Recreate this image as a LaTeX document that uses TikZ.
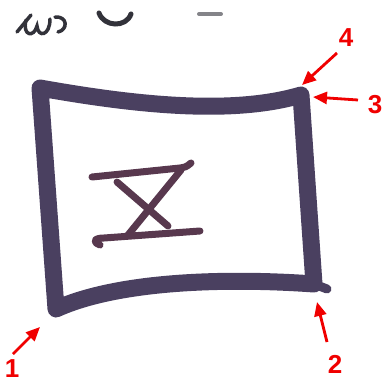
\documentclass[tikz,border=0pt]{standalone}
\usepackage{fontspec}
\setmainfont{Liberation Sans}
\usetikzlibrary{arrows.meta}
\definecolor{ink}{RGB}{74,64,96}
\definecolor{inkbrown}{RGB}{88,56,78}
\definecolor{pencil}{RGB}{50,50,58}
\definecolor{marker}{RGB}{240,0,0}
\tikzset{
  frame/.style={draw=ink, line width=17pt, line join=round, line cap=round},
  glyph/.style={draw=inkbrown, line width=7pt, line cap=round, line join=round},
  scribble/.style={draw=pencil, line width=3.5pt, line cap=round},
  pointer/.style={draw=marker, line width=2.8pt, -{Triangle[length=14pt, width=12pt]}},
  num/.style={text=marker, font=\fontsize{26}{26}\selectfont\bfseries, inner sep=0pt},
}
\begin{document}
\begin{tikzpicture}[x=1pt, y=-1pt]
  \useasboundingbox (0,0) rectangle (384,383);

  \coordinate (tl) at (40,88);
  \coordinate (tr) at (301,95);
  \coordinate (br) at (314,284);
  \coordinate (bl) at (56,309);

  \draw[frame] (tl) .. controls (130,104) and (230,116) .. (tr) -- (br)
    .. controls (230,278) and (120,280) .. (bl) -- cycle;
  \draw[frame, line width=9pt] (br) -- ++(13,5);

  \draw[glyph] (92,177) -- (180,168) .. controls (186,167) .. (191,163);
  \draw[glyph] (100,245) .. controls (92,242) and (94,238) .. (104,238) -- (200,231);
  \draw[glyph] (117,182) -- (168,226);
  \draw[glyph] (181,170) -- (128,235);

  \draw[scribble] (17,32) -- (31,15);
  \draw[scribble] (26,20) .. controls (22,36) and (34,38) .. (37,26)
    .. controls (38,38) and (50,36) .. (50,19);
  \draw[scribble] (55,17) .. controls (68,16) and (68,30) .. (58,32);
  \draw[scribble, line width=5pt] (99,13) .. controls (104,27) and (126,28) .. (131,14);
  \draw[scribble, line width=4pt, draw=pencil!60] (199,14) -- (221,14);

  \node[num] (n1) at (12,369) {1};
  \node[num] (n2) at (335,364) {2};
  \node[num] (n3) at (375,105) {3};
  \node[num] (n4) at (346,38) {4};

  \coordinate (t1) at (13,354);
  \coordinate (p1) at (40,327);
  \coordinate (t2) at (327,342);
  \coordinate (p2) at (317,302);
  \coordinate (t3) at (358,100);
  \coordinate (p3) at (313,97);
  \coordinate (t4) at (337,53);
  \coordinate (p4) at (302,85);

  \draw[pointer] (t1) -- (p1);
  \draw[pointer] (t2) -- (p2);
  \draw[pointer] (t3) -- (p3);
  \draw[pointer] (t4) -- (p4);
\end{tikzpicture}
\end{document}
